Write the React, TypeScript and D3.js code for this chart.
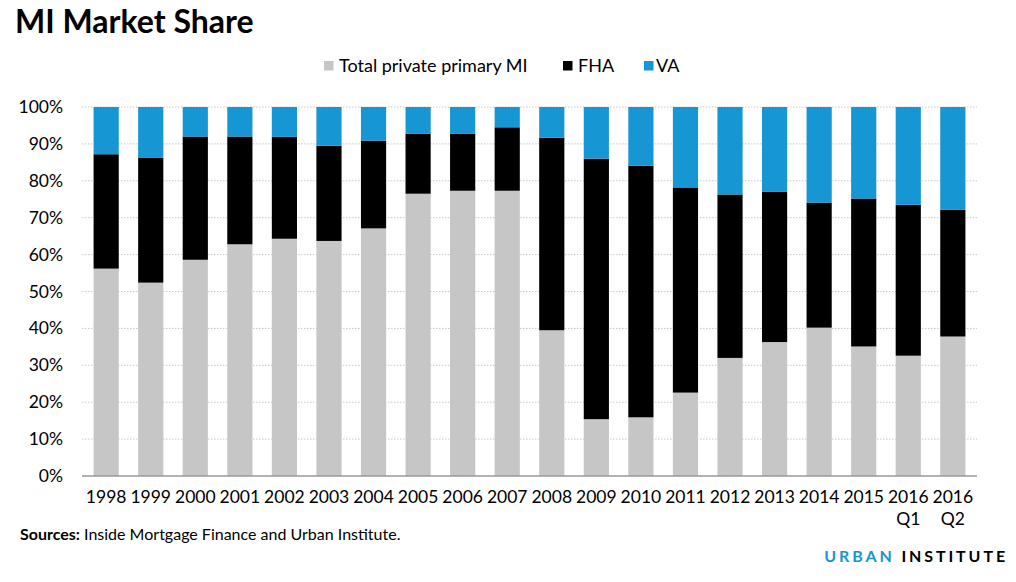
import React, { useRef, useEffect } from 'react';
import * as d3 from 'd3';

const categories = ['1998', '1999', '2000', '2001', '2002', '2003', '2004', '2005', '2006', '2007',
  '2008', '2009', '2010', '2011', '2012', '2013', '2014', '2015', '2016\nQ1', '2016\nQ2'];
const privateMI = [56.2, 52.4, 58.6, 62.8, 64.3, 63.7, 67.1, 76.5, 77.3, 77.3,
  39.5, 15.4, 15.9, 22.6, 32.0, 36.3, 40.2, 35.1, 32.6, 37.8];
const fha = [31.0, 33.9, 33.4, 29.2, 27.6, 25.8, 23.8, 16.3, 15.5, 17.2,
  52.2, 70.6, 68.2, 55.6, 44.3, 40.7, 33.9, 40.1, 40.9, 34.4];
const va = [12.8, 13.7, 8.0, 8.0, 8.1, 10.5, 9.1, 7.2, 7.2, 5.5,
  8.3, 14.0, 15.9, 21.8, 23.7, 23.0, 25.9, 24.8, 26.5, 27.8];
const seriesNames = ['Total private primary MI', 'FHA', 'VA'];
const colors = ['#c6c6c6', '#000000', '#1696d2'];
const yTicks = [0, 10, 20, 30, 40, 50, 60, 70, 80, 90, 100];

const App: React.FC = () => {
  const svgRef = useRef<SVGSVGElement>(null);

  useEffect(() => {
    if (!svgRef.current) return;
    const svg = d3.select(svgRef.current);
    svg.selectAll('*').remove();
    const font = 'Lato, sans-serif';

    const left = 82, right = 977, top = 107, bottom = 476;

    const x = d3.scaleBand().domain(categories).range([left, right]).paddingInner(0.435).paddingOuter(0.26);
    const y = d3.scaleLinear().domain([0, 100]).range([bottom, top]);

    // title
    svg.append('text').attr('x', 15).attr('y', 33).text('MI Market Share')
      .attr('font-family', font).attr('font-weight', 'bold').attr('font-size', 32).attr('fill', '#000');

    // legend
    const legendX = [324, 563, 644];
    const legendTextX = [15, 15, 12];
    seriesNames.forEach((name, i) => {
      const g = svg.append('g').attr('transform', `translate(${legendX[i]},61)`);
      g.append('rect').attr('width', 9.5).attr('height', 9.5).attr('fill', colors[i]);
      g.append('text').attr('x', legendTextX[i]).attr('y', 11).text(name)
        .attr('font-family', font).attr('font-size', 18).attr('fill', '#000');
    });

    // grid
    svg.append('g').selectAll('line').data(yTicks.filter(d => d > 0)).enter().append('line')
      .attr('x1', left).attr('x2', right).attr('y1', d => y(d)).attr('y2', d => y(d))
      .attr('stroke', '#c8c8c8').attr('stroke-width', 1).attr('stroke-dasharray', '1.5,1.5');

    // y labels
    svg.append('g').selectAll('text').data(yTicks).enter().append('text')
      .attr('x', 63).attr('y', d => y(d) + 6).attr('text-anchor', 'end')
      .text(d => `${d}%`).attr('font-family', font).attr('font-size', 17.5).attr('fill', '#000');

    // stacked bars
    const rows = categories.map((c, i) => ({ cat: c, p: privateMI[i], f: fha[i], v: va[i] }));
    const stack = d3.stack<any>().keys(['p', 'f', 'v'])(rows);
    stack.forEach((layer, li) => {
      svg.append('g').selectAll('rect').data(layer).enter().append('rect')
        .attr('x', d => x(d.data.cat)!)
        .attr('width', x.bandwidth())
        .attr('y', d => y(d[1]))
        .attr('height', d => y(d[0]) - y(d[1]))
        .attr('fill', colors[li]);
    });

    // axis baseline
    svg.append('line').attr('x1', left).attr('x2', right).attr('y1', bottom).attr('y2', bottom)
      .attr('stroke', '#999').attr('stroke-width', 1.5);

    // x labels
    const xl = svg.append('g').selectAll('text').data(categories).enter().append('text')
      .attr('x', d => x(d)! + x.bandwidth() / 2).attr('y', 503).attr('text-anchor', 'middle')
      .attr('font-family', font).attr('font-size', 17.5).attr('fill', '#000');
    xl.each(function (d) {
      const parts = d.split('\n');
      parts.forEach((p, i) => {
        d3.select(this).append('tspan').attr('x', x(d)! + x.bandwidth() / 2).attr('dy', i === 0 ? 0 : 22).text(p);
      });
    });

    // source
    const src = svg.append('text').attr('x', 20).attr('y', 540).attr('font-family', font).attr('font-size', 16).attr('fill', '#000');
    src.append('tspan').attr('font-weight', 'bold').text('Sources:');
    src.append('tspan').text(' Inside Mortgage Finance and Urban Institute.');

    // logo
    const logo = svg.append('text').attr('x', 1008).attr('y', 562).attr('text-anchor', 'end')
      .attr('font-family', font).attr('font-weight', 'bold').attr('font-size', 16).attr('letter-spacing', 2.9);
    logo.append('tspan').attr('fill', '#1696d2').text('URBAN ');
    logo.append('tspan').attr('fill', '#000').text('INSTITUTE');
  }, []);

  return <svg ref={svgRef} width={1016} height={582} style={{ position: 'absolute', left: 0, top: 0, background: '#fff' }} />;
};

export default App;
